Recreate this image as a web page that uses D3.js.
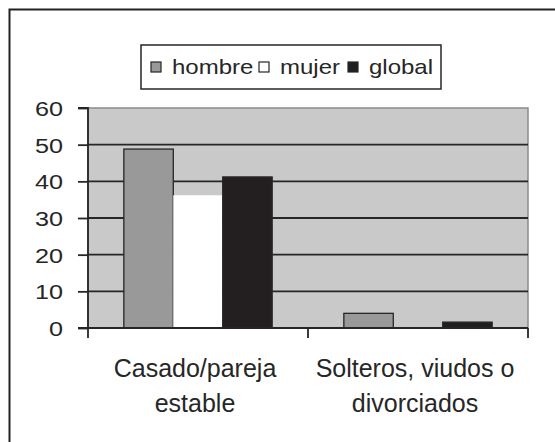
<!DOCTYPE html>
<html><head><meta charset="utf-8">
<script src="https://cdn.jsdelivr.net/npm/d3@7"></script>
<style>body{margin:0;background:#fff}svg{display:block;font-family:"Liberation Sans",Arial,sans-serif}</style>
</head><body><svg id="c" width="555" height="442"></svg>
<script>
const categories = [["Casado/pareja","estable"],["Solteros, viudos o","divorciados"]];
const seriesNames = ["hombre","mujer","global"];
const hombre = [48.8, 4.0];
const mujer = [36.2, 0];
const global = [41.2, 1.6];
const yTicks = [0,10,20,30,40,50,60];
const colors = ["#999999","#ffffff","#231f20"];

const svg = d3.select("#c");
svg.append("rect").attr("x",9.5).attr("y",9.5).attr("width",560).attr("height",450)
  .attr("fill","#fff").attr("stroke","#222").attr("stroke-width",2);

const L=88,R=528,T=108,B=328;
const x = d3.scaleBand().domain([0,1]).range([L,R]);
const xs = d3.scaleBand().domain(seriesNames).range([0,x.bandwidth()]).paddingOuter(0.725).paddingInner(0);
const y = d3.scaleLinear().domain([0,60]).range([B,T]);

svg.append("rect").attr("x",L).attr("y",T).attr("width",R-L).attr("height",B-T)
  .attr("fill","#c9c9c9").attr("stroke","#8a8a8a").attr("stroke-width",1.5);

svg.append("g").selectAll("line").data(yTicks.filter(d=>d>0&&d<60)).join("line")
  .attr("x1",L).attr("x2",R).attr("y1",d=>y(d)).attr("y2",d=>y(d))
  .attr("stroke","#262626").attr("stroke-width",1.8);

const data = [hombre,mujer,global];
data.forEach((vals,si)=>{
  svg.append("g").selectAll("rect").data(vals).join("rect")
    .attr("x",(d,i)=>x(i)+xs(seriesNames[si]))
    .attr("y",d=>y(d)).attr("width",xs.bandwidth()).attr("height",d=>B-y(d))
    .attr("fill",colors[si]).attr("stroke",si===1?"none":"#262626").attr("stroke-width",1.3);
});

const ya = d3.axisLeft(y).tickValues(yTicks).tickSize(10).tickPadding(15);
const gy = svg.append("g").attr("transform",`translate(${L},0)`).call(ya);
gy.select(".domain").attr("stroke","#262626").attr("stroke-width",1.8).attr("d",`M-10,${T}H0V${B}`);
gy.selectAll(".tick line").attr("stroke","#262626").attr("stroke-width",1.8);
gy.selectAll("text").attr("x",0).attr("dy","0.36em")
  .attr("transform","translate(-25,0) scale(1.2,1)")
  .attr("font-size",21).attr("fill","#262626").attr("font-family","Liberation Sans, Arial, sans-serif");

// x axis
svg.append("line").attr("x1",L-10).attr("x2",R).attr("y1",B).attr("y2",B).attr("stroke","#262626").attr("stroke-width",1.8);
const bounds=[L, x(1), R];
svg.append("g").selectAll("line").data(bounds).join("line")
  .attr("x1",d=>d).attr("x2",d=>d).attr("y1",B).attr("y2",B+10).attr("stroke","#262626").attr("stroke-width",1.8);

const lab = svg.append("g").selectAll("text").data(categories).join("text")
  .attr("x",(d,i)=>x(i)+x.bandwidth()/2 - 3).attr("y",377).attr("text-anchor","middle")
  .attr("font-size",25).attr("fill","#262626");
lab.selectAll("tspan").data(d=>d).join("tspan")
  .attr("x",function(){return this.parentNode.getAttribute("x");})
  .attr("dy",(d,i)=>i===0?0:35).text(d=>d);

// legend
const lg = svg.append("g");
lg.append("rect").attr("x",141).attr("y",45).attr("width",300).attr("height",44)
  .attr("fill","#fff").attr("stroke","#262626").attr("stroke-width",1.5);
const legX=[151,259,348];
seriesNames.forEach((n,i)=>{
  lg.append("rect").attr("x",legX[i]).attr("y",62).attr("width",10).attr("height",10)
    .attr("fill",colors[i]).attr("stroke","#262626").attr("stroke-width",1.2);
  lg.append("text").attr("transform",`translate(${legX[i]+21},74) scale(1.2,1)`)
    .attr("font-size",20).attr("fill","#262626").text(n);
});
</script></body></html>
